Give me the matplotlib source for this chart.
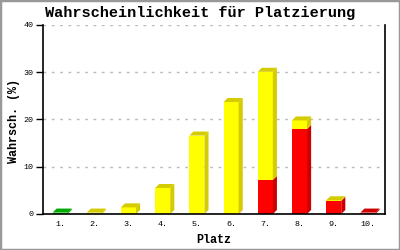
import numpy as np
import matplotlib.pyplot as plt
from matplotlib.patches import Polygon, Rectangle

# Data
plaetze = ["1.", "2.", "3.", "4.", "5.", "6.", "7.", "8.", "9.", "10."]
gruen = np.array([0.3, 0, 0, 0, 0, 0, 0, 0, 0, 0])
rot = np.array([0, 0, 0, 0, 0, 0.1, 7.2, 18.0, 2.8, 0.3])
gelb = np.array([0, 0.3, 1.4, 5.5, 16.6, 23.6, 22.9, 1.8, 0.1, 0])

fig = plt.figure(figsize=(4, 2.5), dpi=100)
ax = fig.add_axes([0.1075, 0.144, 0.855, 0.756])

x = np.arange(1, len(plaetze) + 1)
w = 0.44
dx, dy = 0.12, 0.85  # depth offset of the 3D look

front = {"g": "#00dd00", "r": "#ff0000", "y": "#ffff00"}
side = {"g": "#00aa00", "r": "#cc0000", "y": "#d4cc00"}

for i, xi in enumerate(x):
    segs = []
    bottom = 0
    for key, vals in (("g", gruen), ("r", rot), ("y", gelb)):
        v = vals[i]
        if v > 0:
            segs.append((key, bottom, bottom + v))
            bottom += v
    for key, y0, y1 in segs:
        ax.bar(xi, y1 - y0, bottom=y0, width=w, color=front[key], linewidth=0, zorder=3)
        xr = xi + w / 2
        ax.add_patch(Polygon([(xr, y0), (xr + dx, y0 + dy), (xr + dx, y1 + dy), (xr, y1)],
                             closed=True, facecolor=side[key], linewidth=0, zorder=3))
    key, y0, y1 = segs[-1]
    xl = xi - w / 2
    ax.add_patch(Polygon([(xl, y1), (xl + dx, y1 + dy), (xi + w / 2 + dx, y1 + dy), (xi + w / 2, y1)],
                         closed=True, facecolor=side[key], linewidth=0, zorder=3))

ax.set_xlim(0.5, 10.5)
ax.set_ylim(0, 40)
ax.set_yticks([0, 10, 20, 30, 40])
ax.set_xticks(x)
ax.set_xticklabels(plaetze)
ax.yaxis.grid(True, linestyle=(0, (2, 4)), color="#bbbbbb", linewidth=1, zorder=0)
ax.spines["top"].set_visible(False)
for s in ("left", "bottom", "right"):
    ax.spines[s].set_linewidth(1.2)
    ax.spines[s].set_zorder(4)
ax.tick_params(axis="y", length=5, width=1, pad=2, labelsize=6)
ax.tick_params(axis="x", length=0, pad=5, labelsize=6)
for lab in ax.get_xticklabels() + ax.get_yticklabels():
    lab.set_family("Liberation Mono")

fig.text(0.5, 0.95, "Wahrscheinlichkeit für Platzierung", ha="center", va="center",
         family="Liberation Mono", fontweight="bold", fontsize=11)
fig.text(0.535, 0.04, "Platz", ha="center", va="center",
         family="Liberation Mono", fontweight="bold", fontsize=8.5)
fig.text(0.035, 0.516, "Wahrsch. (%)", ha="center", va="center", rotation=90,
         family="Liberation Mono", fontweight="bold", fontsize=8.5)

fig.patches.append(Rectangle((0, 0), 1, 1, transform=fig.transFigure, fill=False,
                             edgecolor="#999999", linewidth=2.5))

fig.savefig("out.png", dpi=100)
